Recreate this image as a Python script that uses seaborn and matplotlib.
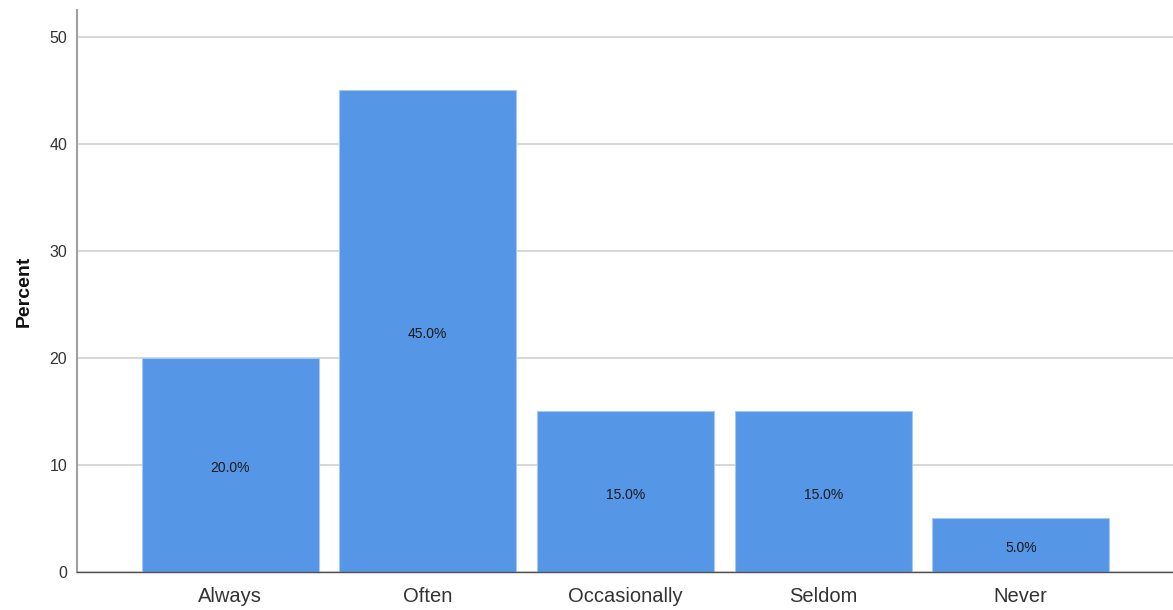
import matplotlib
matplotlib.use("Agg")
import matplotlib.pyplot as plt
import matplotlib.transforms as mtransforms
import seaborn as sns
import pandas as pd

categories = ["Always", "Often", "Occasionally", "Seldom", "Never"]
percents = [20.0, 45.0, 15.0, 15.0, 5.0]
y_ticks = [0, 10, 20, 30, 40, 50]

sns.set_style("white")
plt.rcParams["font.family"] = ["Liberation Sans", "DejaVu Sans"]

df = pd.DataFrame({"category": categories, "percent": percents})

fig = plt.figure(figsize=(11.73, 6.10), dpi=100)
ax = fig.add_axes([0.0656, 0.0623, 0.9344, 0.9213])

sns.barplot(data=df, x="category", y="percent", order=categories,
            color="#5596E6", saturation=1, width=0.895,
            edgecolor="#A9C8F0", linewidth=0.8, ax=ax, zorder=2)

# value labels sit at mid-height of each bar, nudged slightly down
label_offset = mtransforms.ScaledTranslation(0, -3 / 100, fig.dpi_scale_trans)
for patch, val in zip(ax.patches, percents):
    cx = patch.get_x() + patch.get_width() / 2
    ax.text(cx, patch.get_height() / 2, f"{val:.1f}%", ha="center", va="center",
            fontsize=10, color="#1a1a1a", zorder=3,
            transform=ax.transData + label_offset)

ax.set_xlim(-0.775, 4.77)
ax.set_ylim(0, 52.5)
ax.set_yticks(y_ticks)
ax.yaxis.grid(True, color="#D4D4D4", linewidth=1.3, zorder=0)
ax.set_axisbelow(True)

for side in ("top", "right"):
    ax.spines[side].set_visible(False)
ax.spines["left"].set_color("#A0A0A0")
ax.spines["left"].set_linewidth(1.5)
ax.spines["bottom"].set_color("#505050")
ax.spines["bottom"].set_linewidth(1.0)

ax.tick_params(axis="y", length=0, labelsize=11.5, labelcolor="#333333", pad=7)
ax.tick_params(axis="x", length=0, labelsize=14.5, labelcolor="#333333", pad=11)

ax.set_xlabel("")
ax.set_ylabel("Percent", fontsize=14, fontweight="bold", color="#111111", labelpad=12)

fig.savefig("out.png", dpi=100)
